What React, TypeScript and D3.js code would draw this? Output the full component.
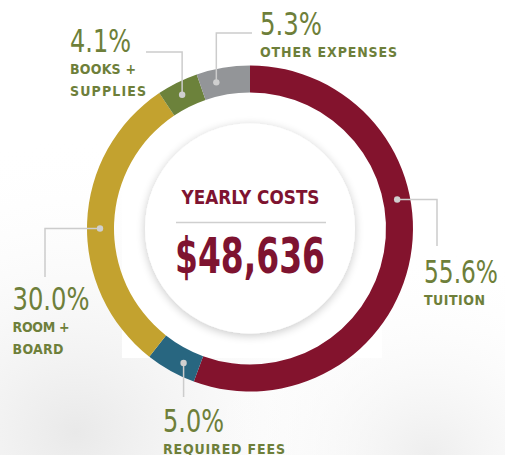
import React from "react";
import * as d3 from "d3";

const categories = ["TUITION", "REQUIRED FEES", "ROOM + BOARD", "BOOKS + SUPPLIES", "OTHER EXPENSES"];
const values = [55.6, 5.0, 30.0, 4.1, 5.3];
const colors = ["#83132D", "#286680", "#C3A22F", "#6C823B", "#939598"];
const labelLines = [["TUITION"], ["REQUIRED FEES"], ["ROOM +", "BOARD"], ["BOOKS +", "SUPPLIES"], ["OTHER EXPENSES"]];
const totalLabel = "$48,636";
const title = "YEARLY COSTS";

const W = 505, H = 455;
const cx = 250, cy = 228.5;
const rOuter = 163, rInner = 136, rDot = 150;
const GREEN = "#6E7F3A";
const MAROON = "#7E1330";
const FONT = "'DejaVu Sans Condensed', 'Liberation Sans Narrow', 'DejaVu Sans', sans-serif";

// label layout: dot position within slice, leader path, text anchor and widths
const layout = [
  { frac: 0.394, elbow: [437, null], end: 246, tx: 424, ty: 283, dir: "hv", pw: 74, lw: [61] },
  { frac: 0.34, elbow: null, end: 397, tx: 163, ty: 432, dir: "v", pw: 61, lw: [122] },
  { frac: 0.48, elbow: [45, null], end: 277, tx: 12.5, ty: 310, dir: "hv", pw: 77, lw: [57, 51] },
  { frac: 0.47, elbow: [null, 52], end: 146, tx: 70, ty: 52, dir: "vh", pw: 61, lw: [66, 76] },
  { frac: 0.32, elbow: [null, 33], end: 252, tx: 260, ty: 35, dir: "vh", pw: 62, lw: [137] },
];

export default function App() {
  const pie = d3.pie<number>().sort(null).value((d) => d);
  const arcs = pie(values);
  const arc = d3.arc<d3.PieArcDatum<number>>().innerRadius(rInner).outerRadius(rOuter);
  const total = d3.sum(values);
  return (
    <svg width={W} height={H} style={{ position: "absolute", left: 0, top: 0 }} fontFamily={FONT}>
      <defs>
        <radialGradient id="bg1" cx="0.15" cy="0.95" r="0.65">
          <stop offset="0" stopColor="#e9e9e9" />
          <stop offset="1" stopColor="#ffffff" stopOpacity="0" />
        </radialGradient>
        <radialGradient id="bg2" cx="0.85" cy="1" r="0.45">
          <stop offset="0" stopColor="#eeeeee" />
          <stop offset="1" stopColor="#ffffff" stopOpacity="0" />
        </radialGradient>
        <filter id="shadow" x="-30%" y="-30%" width="160%" height="160%">
          <feGaussianBlur in="SourceAlpha" stdDeviation="5" />
          <feOffset dx="0" dy="2" result="b" />
          <feComponentTransfer>
            <feFuncA type="linear" slope="0.22" />
          </feComponentTransfer>
          <feMerge>
            <feMergeNode />
            <feMergeNode in="SourceGraphic" />
          </feMerge>
        </filter>
      </defs>
      <rect width={W} height={H} fill="#ffffff" />
      <rect width={W} height={H} fill="url(#bg1)" />
      <rect width={W} height={H} fill="url(#bg2)" />
      <rect x={122} y={120} width={260} height={238} fill="#ffffff" />
      <g transform={`translate(${cx},${cy})`}>
        {arcs.map((a, i) => (
          <path key={i} d={arc(a) || ""} fill={colors[i]} />
        ))}
        <circle r={105} fill="#ffffff" filter="url(#shadow)" />
      </g>
      <text x={181.5} y={203.5} textLength={138} lengthAdjust="spacingAndGlyphs" fill={MAROON} fontSize={19.5} fontWeight="bold">
        {title}
      </text>
      <line x1={176} x2={326} y1={222.5} y2={222.5} stroke="#cfcfcf" strokeWidth={1.5} />
      <text x={175} y={273} textLength={150} lengthAdjust="spacingAndGlyphs" fill={MAROON} fontSize={49} fontWeight="bold">
        {totalLabel}
      </text>
      {arcs.map((a, i) => {
        const L = layout[i];
        const ang = a.startAngle + (a.endAngle - a.startAngle) * L.frac;
        const dx = cx + rDot * Math.sin(ang);
        const dy = cy - rDot * Math.cos(ang);
        let pts: [number, number][];
        if (L.dir === "hv") pts = [[dx, dy], [L.elbow![0] as number, dy], [L.elbow![0] as number, L.end]];
        else if (L.dir === "vh") pts = [[dx, dy], [dx, L.elbow![1] as number], [L.end, L.elbow![1] as number]];
        else pts = [[dx, dy], [dx, L.end]];
        const pct = ((values[i] / total) * 100).toFixed(1) + "%";
        return (
          <g key={i}>
            <path d={d3.line()(pts) || ""} fill="none" stroke="#cccccc" strokeWidth={1.5} />
            <circle cx={dx} cy={dy} r={3.2} fill="#cfcfcf" />
            <text x={L.tx} y={L.ty} fill={GREEN} fontSize={32} textLength={L.pw} lengthAdjust="spacingAndGlyphs">
              {pct}
            </text>
            {labelLines[i].map((t, j) => (
              <text key={j} x={L.tx} y={L.ty + 22 + j * 22} fill={GREEN} fontSize={14} fontWeight="bold" textLength={L.lw[j]} lengthAdjust="spacing">
                {t}
              </text>
            ))}
          </g>
        );
      })}
    </svg>
  );
}
